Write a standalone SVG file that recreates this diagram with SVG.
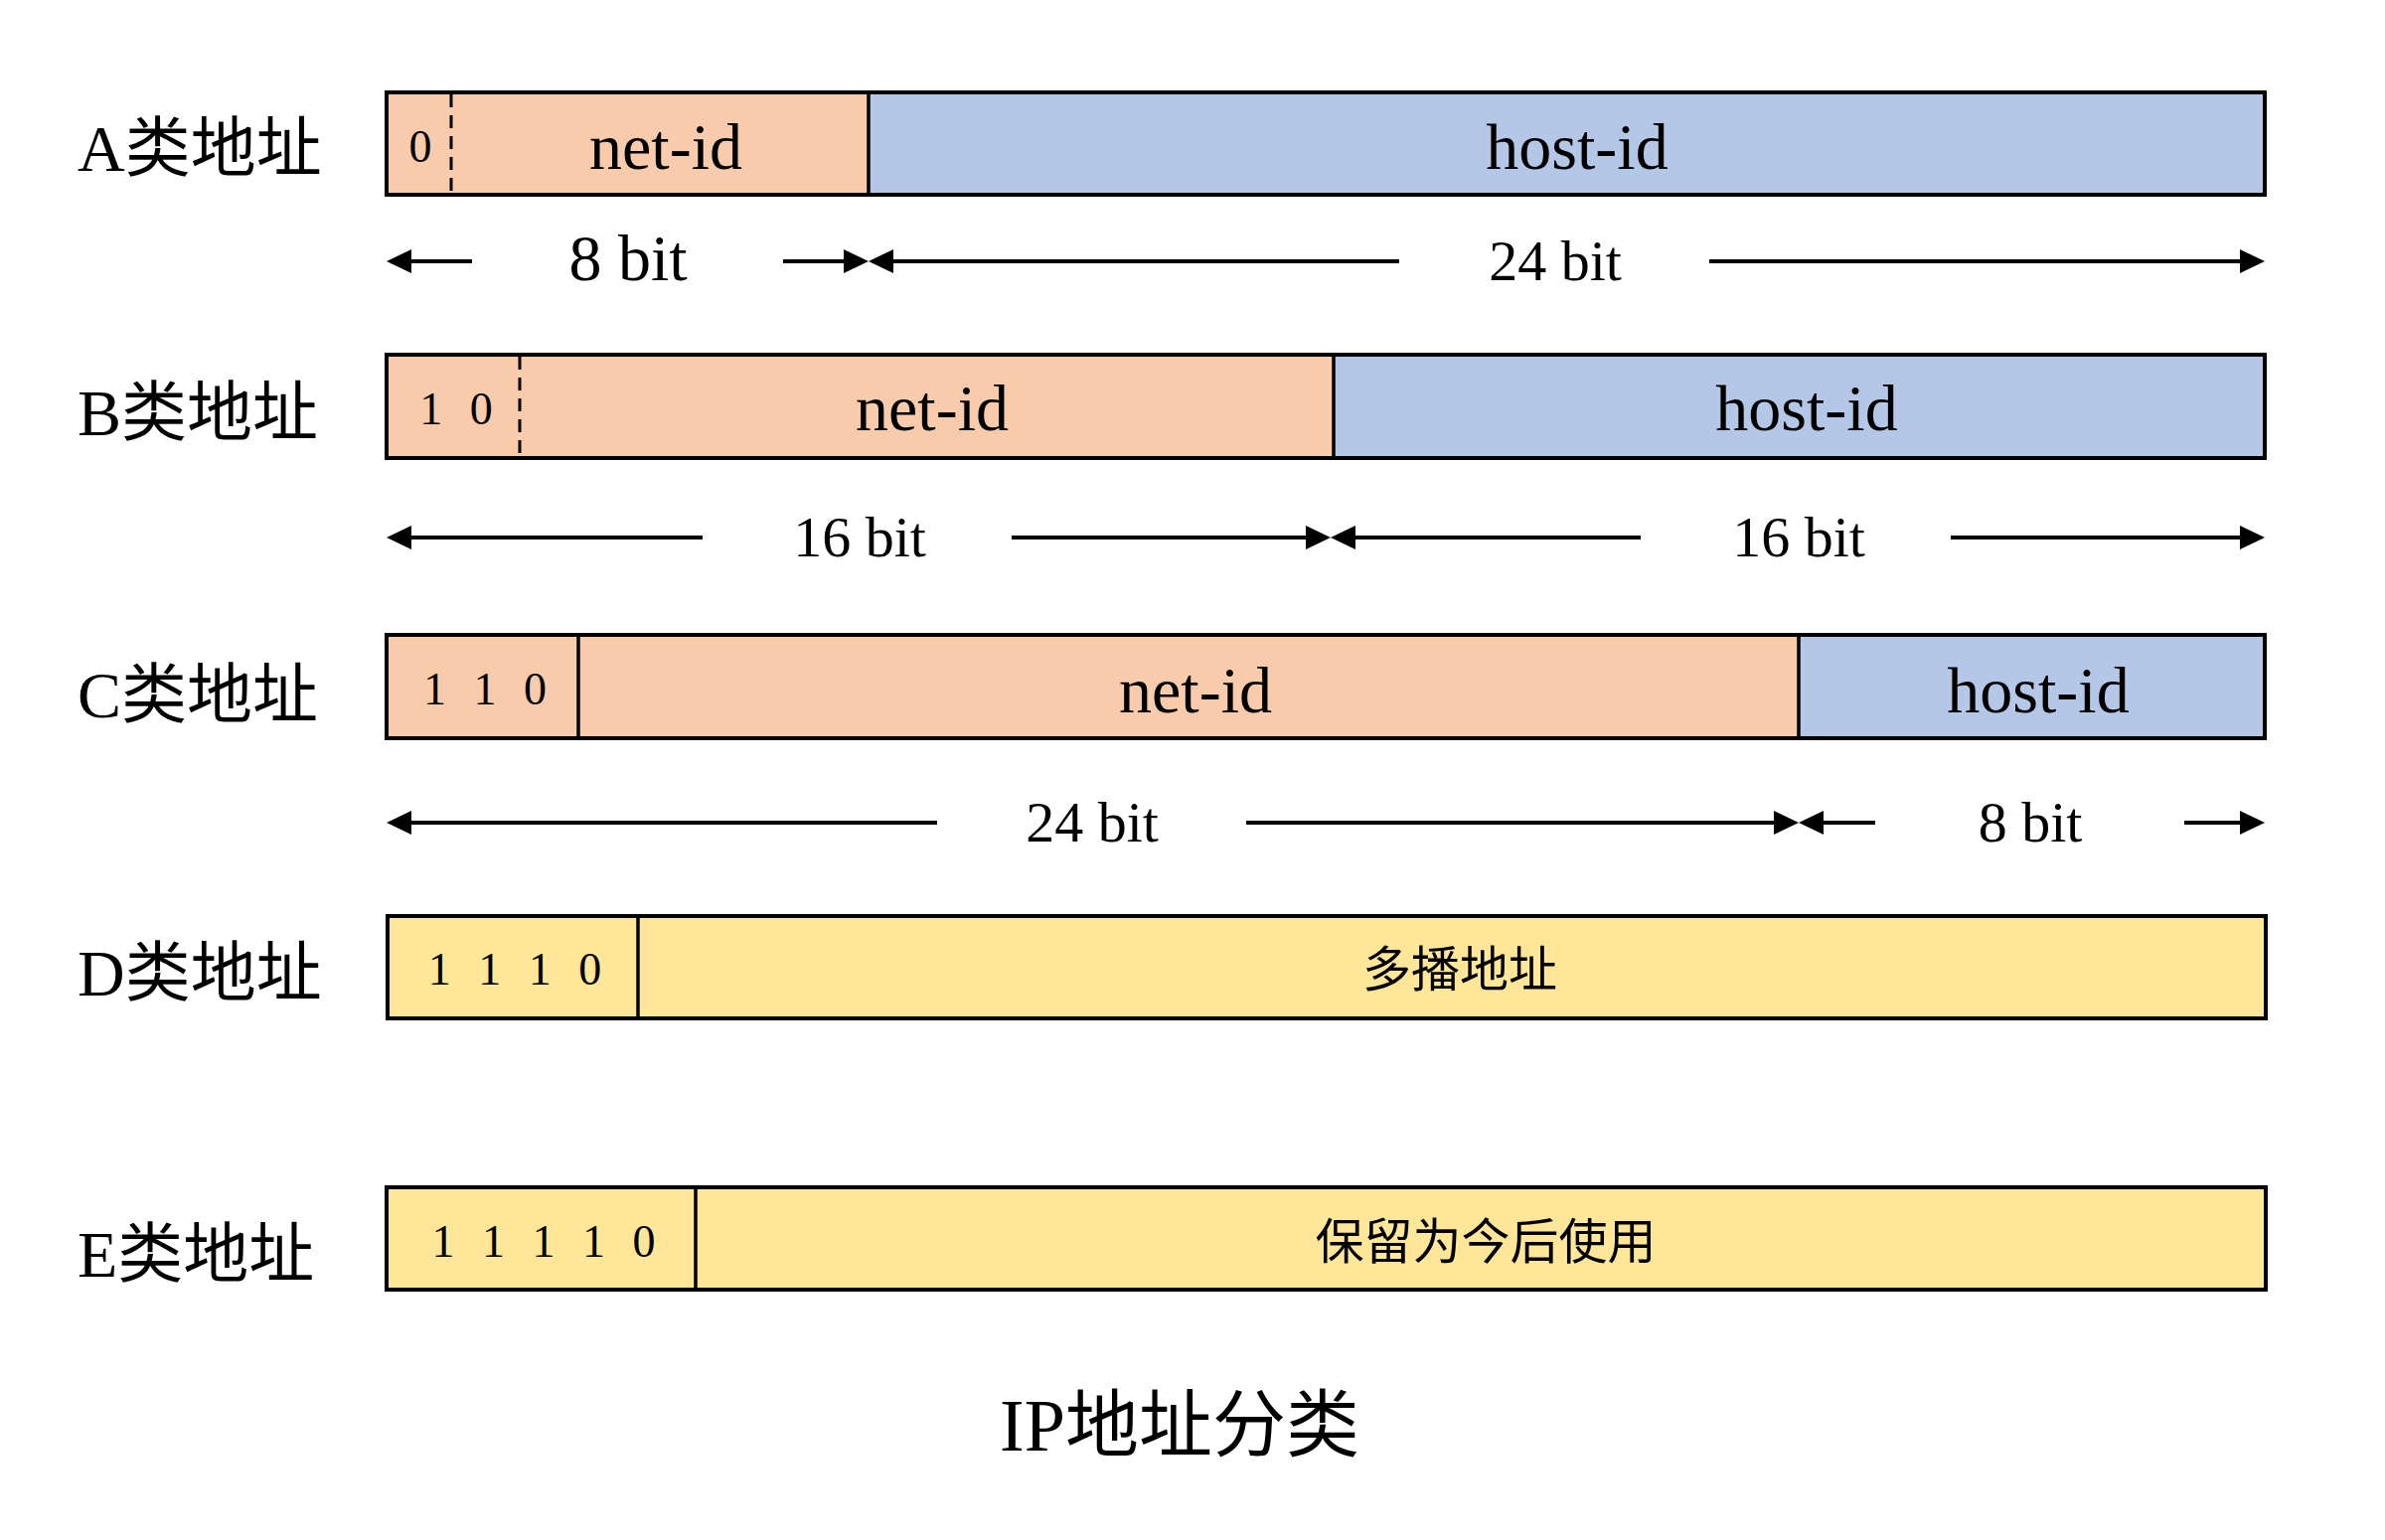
<svg xmlns="http://www.w3.org/2000/svg" width="2400" height="1550" viewBox="0 0 2400 1550">
<style>
.lbl{font-family:"Liberation Serif","Noto Sans CJK SC",serif;font-size:66px;fill:#000}
.big{font-family:"Liberation Serif","Noto Sans CJK SC",serif;font-size:66px;fill:#000;text-anchor:middle}
.bit{font-family:"Liberation Serif","Noto Sans CJK SC",serif;font-size:58px;fill:#000;text-anchor:middle}
.dig{font-family:"Liberation Serif",serif;font-size:46px;fill:#000;text-anchor:middle;word-spacing:16px}
.cjk{font-family:"Noto Sans CJK SC",sans-serif;font-size:49px;fill:#000;text-anchor:middle}
.title{font-family:"Liberation Serif","Noto Sans CJK SC",serif;font-size:74px;fill:#000;text-anchor:middle}
.net{fill:#F8CBAD}
.host{fill:#B4C7E7}
.res{fill:#FFE699}
.frame{fill:none;stroke:#000;stroke-width:4}
.div{stroke:#000;stroke-width:3.5}
.dash{stroke:#000;stroke-width:3;stroke-dasharray:13 8}
.arr{stroke:#000;stroke-width:4;fill:none;marker-end:url(#ah)}
</style>
<defs>
<marker id="ah" markerUnits="userSpaceOnUse" markerWidth="25" markerHeight="24" refX="15" refY="12" orient="auto" viewBox="0 0 25 24">
<path d="M0,0 L25,12 L0,24 z" fill="#000"/>
</marker>
</defs>
<rect width="2400" height="1550" fill="#fff"/>

<g id="classA">
<text class="lbl" x="78" y="172">A类地址</text>
<rect class="net" x="389" y="93" width="485" height="103"/>
<rect class="host" x="874" y="93" width="1405" height="103"/>
<line class="dash" x1="454" y1="95" x2="454" y2="194"/>
<line class="div" x1="874" y1="93" x2="874" y2="196"/>
<rect class="frame" x="389" y="93" width="1890" height="103"/>
<text class="dig" x="423" y="163">0</text>
<text class="big" x="670" y="170">net-id</text>
<text class="big" x="1587" y="170">host-id</text>
</g>

<g id="classB">
<text class="lbl" x="78" y="438">B类地址</text>
<rect class="net" x="389" y="357" width="953" height="104"/>
<rect class="host" x="1342" y="357" width="937" height="104"/>
<line class="dash" x1="523" y1="359" x2="523" y2="459"/>
<line class="div" x1="1342" y1="357" x2="1342" y2="461"/>
<rect class="frame" x="389" y="357" width="1890" height="104"/>
<text class="dig" x="459" y="427">1 0</text>
<text class="big" x="938" y="433">net-id</text>
<text class="big" x="1818" y="433">host-id</text>
</g>

<g id="classC">
<text class="lbl" x="78" y="722">C类地址</text>
<rect class="net" x="389" y="639" width="1421" height="104"/>
<rect class="host" x="1810" y="639" width="469" height="104"/>
<line class="div" x1="582" y1="639" x2="582" y2="743"/>
<line class="div" x1="1810" y1="639" x2="1810" y2="743"/>
<rect class="frame" x="389" y="639" width="1890" height="104"/>
<text class="dig" x="488" y="709">1 1 0</text>
<text class="big" x="1203" y="717">net-id</text>
<text class="big" x="2051" y="717">host-id</text>
</g>

<g id="classD">
<text class="lbl" x="78" y="1002">D类地址</text>
<rect class="res" x="390" y="922" width="1890" height="103"/>
<line class="div" x1="642" y1="922" x2="642" y2="1025"/>
<rect class="frame" x="390" y="922" width="1890" height="103"/>
<text class="dig" x="518" y="991">1 1 1 0</text>
<text class="cjk" x="1469" y="993">多播地址</text>
</g>

<g id="classE">
<text class="lbl" x="78" y="1285">E类地址</text>
<rect class="res" x="389" y="1195" width="1891" height="103"/>
<line class="div" x1="700" y1="1195" x2="700" y2="1298"/>
<rect class="frame" x="389" y="1195" width="1891" height="103"/>
<text class="dig" x="547" y="1265">1 1 1 1 0</text>
<text class="cjk" x="1495" y="1267">保留为今后使用</text>
</g>

<g id="connectors">
<line class="arr" x1="475" y1="263" x2="399" y2="263"/>
<line class="arr" x1="788" y1="263" x2="864" y2="263"/>
<line class="arr" x1="1408" y1="263" x2="884" y2="263"/>
<line class="arr" x1="1720" y1="263" x2="2269" y2="263"/>

<line class="arr" x1="707" y1="541" x2="399" y2="541"/>
<line class="arr" x1="1018" y1="541" x2="1329" y2="541"/>
<line class="arr" x1="1651" y1="541" x2="1349" y2="541"/>
<line class="arr" x1="1963" y1="541" x2="2269" y2="541"/>

<line class="arr" x1="943" y1="828" x2="399" y2="828"/>
<line class="arr" x1="1254" y1="828" x2="1800" y2="828"/>
<line class="arr" x1="1887" y1="828" x2="1820" y2="828"/>
<line class="arr" x1="2198" y1="828" x2="2269" y2="828"/>
</g>

<g id="bitLabels">
<text class="bit" x="632" y="282" style="font-size:66px">8 bit</text>
<text class="bit" x="1565" y="282">24 bit</text>
<text class="bit" x="865" y="560">16 bit</text>
<text class="bit" x="1810" y="560">16 bit</text>
<text class="bit" x="1099" y="847">24 bit</text>
<text class="bit" x="2043" y="847">8 bit</text>
</g>

<text class="title" x="1187" y="1460">IP地址分类</text>
</svg>
